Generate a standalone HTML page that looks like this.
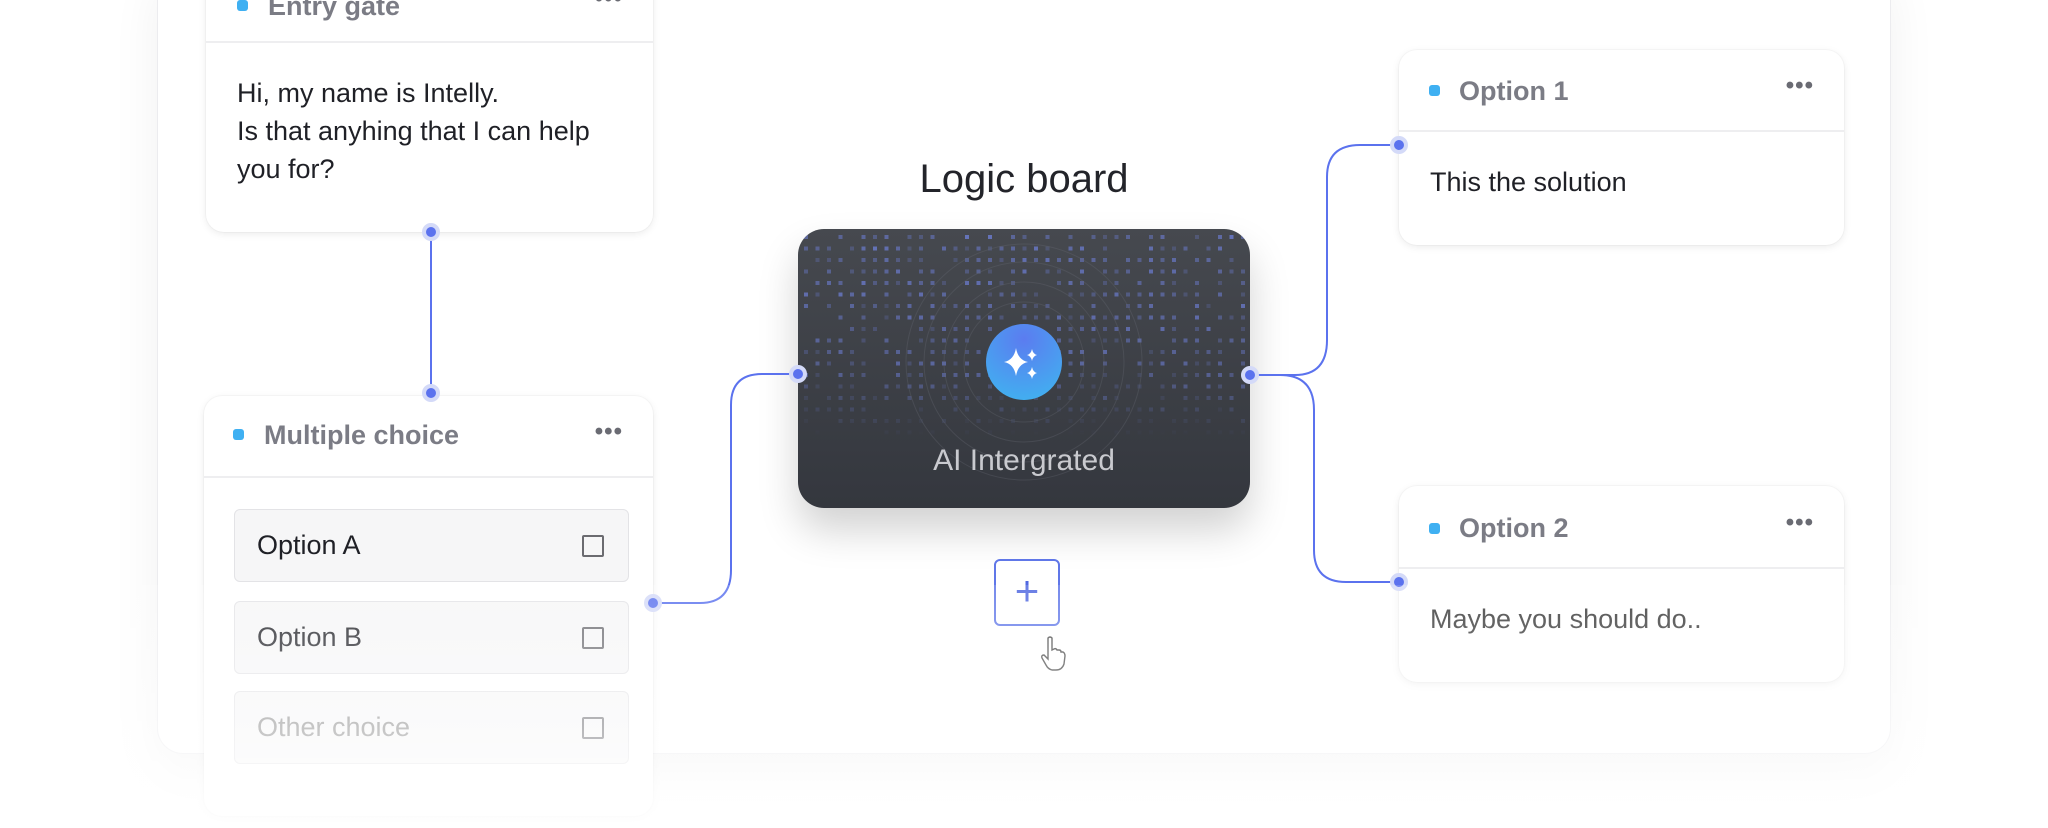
<!DOCTYPE html>
<html><head><meta charset="utf-8"><style>
*{box-sizing:border-box;margin:0;padding:0}
body{width:2048px;height:828px;background:#fff;position:relative;overflow:hidden;font-family:"Liberation Sans",sans-serif}
.abs{position:absolute}
.panel{left:157px;top:-40px;width:1734px;height:794px;background:#fff;border:1px solid #ececef;border-radius:26px;box-shadow:0 20px 50px rgba(0,0,0,0.06)}
.card{position:absolute;background:#fff;border-radius:18px;box-shadow:0 2px 8px rgba(0,0,0,0.08),0 0 0 1px rgba(0,0,0,0.025)}
.hdr{position:absolute;left:0;right:0;border-bottom:2px solid #eeeef0}
.sq{position:absolute;width:11px;height:11px;border-radius:3px;background:#3fb0f2}
.ht{position:absolute;font-size:27px;color:#7b7c85;font-weight:bold}
.dots{position:absolute;font-size:24px;color:#6a6b73;letter-spacing:1px;font-weight:bold}
.bt{position:absolute;font-size:27px;color:#1f2026;line-height:38px}
.opt{position:absolute;left:30px;width:395px;height:73px;border:1.5px solid #e3e3e6;border-radius:6px;background:#f6f6f7}
.opt span{position:absolute;left:22px;top:20px;font-size:27px;color:#1f2026}
.opt i{position:absolute;right:24px;top:25px;width:22px;height:22px;border:2px solid #6b6b70;border-radius:2px}
</style></head><body>
<div class="abs panel"></div>

<!-- Entry gate -->
<div class="card" style="left:206px;top:-60px;width:447px;height:292px">
  <div class="hdr" style="top:0;height:103px"></div>
  <div class="sq" style="left:31px;top:60px"></div>
  <div class="ht" style="left:62px;top:51px">Entry gate</div>
  <div class="dots" style="right:30px;top:45px">•••</div>
  <div class="bt" style="left:31px;top:134px">Hi, my name is Intelly.<br>Is that anyhing that I can help<br>you for?</div>
</div>

<!-- Multiple choice -->
<div class="card" style="left:204px;top:396px;width:449px;height:420px">
  <div class="hdr" style="top:0;height:82px"></div>
  <div class="sq" style="left:29px;top:33px"></div>
  <div class="ht" style="left:60px;top:24px">Multiple choice</div>
  <div class="dots" style="right:30px;top:22px">•••</div>
  <div class="opt" style="top:113px"><span>Option A</span><i></i></div>
  <div class="opt" style="top:205px"><span>Option B</span><i></i></div>
  <div class="opt" style="top:295px"><span style="color:#888">Other choice</span><i></i></div>
</div>

<!-- Logic board -->
<div class="abs" style="left:824px;top:157px;width:400px;text-align:center;font-size:40px;color:#23242a">Logic board</div>
<div class="abs" style="left:798px;top:229px;width:452px;height:279px;border-radius:26px;overflow:hidden;background:linear-gradient(#46494f,#34373e);box-shadow:0 22px 40px rgba(0,0,0,0.18)">
  <svg width="452" height="279" style="position:absolute;left:0;top:0">
    <defs>
      <linearGradient id="g" x1="0" y1="0" x2="0" y2="1"><stop offset="0" stop-color="#fff" stop-opacity="0.8"/><stop offset="0.5" stop-color="#fff" stop-opacity="0.6"/><stop offset="0.75" stop-color="#fff" stop-opacity="0"/></linearGradient>
      <mask id="m"><rect width="452" height="279" fill="url(#g)"/></mask>
      <radialGradient id="cg" cx="0.5" cy="0.2" r="0.9"><stop offset="0" stop-color="#5b7cf0"/><stop offset="1" stop-color="#3fb4f0"/></radialGradient>
    </defs>
    <g id="dg" mask="url(#m)"></g>
    <g fill="none" stroke="#6a6e78" stroke-opacity="0.3">
      <circle cx="226" cy="133" r="60"/><circle cx="226" cy="133" r="80"/><circle cx="226" cy="133" r="100"/><circle cx="226" cy="133" r="118"/>
    </g>
    <circle cx="226" cy="133" r="38" fill="url(#cg)"/>
    <path d="M218 119 Q220 131 230 133 Q220 135 218 147 Q216 135 206 133 Q216 131 218 119Z" fill="#fff"/>
    <path d="M234 120 Q235 125 239 126 Q235 127 234 132 Q233 127 229 126 Q233 125 234 120Z" fill="#fff"/>
    <path d="M234 138 Q235 143 239 144 Q235 145 234 150 Q233 145 229 144 Q233 143 234 138Z" fill="#fff"/>
  </svg>
  <div style="position:absolute;left:0;right:0;top:215px;text-align:center;font-size:30px;color:#c9cacf">AI Intergrated</div>
</div>
<script>
(function(){var g=document.getElementById('dg'),s=7,h='';
function r(){s=(s*9301+49297)%233280;return s/233280;}
for(var y=6;y<230;y+=11.5)for(var x=6;x<452;x+=11.5){var v=r();if(v<0.25)continue;
h+='<rect x="'+x.toFixed(1)+'" y="'+y.toFixed(1)+'" width="4" height="4" fill="#6e7fd8" opacity="'+(0.3+0.7*r()).toFixed(2)+'"/>';}
g.innerHTML=h;})();
</script>

<!-- plus -->
<div class="abs" style="left:994px;top:559px;width:66px;height:67px;border:2px solid #6077e8;border-radius:6px;background:#fff;color:#5068e0;font-size:42px;text-align:center;line-height:60px;font-weight:300">+</div>
<svg class="abs" style="left:1040px;top:636px" width="26" height="36" viewBox="0 0 26 36"><path d="M8 2 Q10 0 12 2 L12 14 L14 13 Q16 12 17 14 L19 14 Q21 14 21 16 L23 16 Q25 17 25 20 L24 28 Q22 34 16 34 L12 34 Q8 33 6 29 L2 22 Q1 19 4 19 L8 23 Z" fill="#fff" stroke="#444" stroke-width="1.4"/></svg>

<!-- Option 1 -->
<div class="card" style="left:1399px;top:50px;width:445px;height:195px">
  <div class="hdr" style="top:0;height:82px"></div>
  <div class="sq" style="left:30px;top:35px"></div>
  <div class="ht" style="left:60px;top:26px">Option 1</div>
  <div class="dots" style="right:30px;top:22px">•••</div>
  <div class="bt" style="left:31px;top:113px">This the solution</div>
</div>
<!-- Option 2 -->
<div class="card" style="left:1399px;top:486px;width:445px;height:196px">
  <div class="hdr" style="top:0;height:83px"></div>
  <div class="sq" style="left:30px;top:37px"></div>
  <div class="ht" style="left:60px;top:27px">Option 2</div>
  <div class="dots" style="right:30px;top:23px">•••</div>
  <div class="bt" style="left:31px;top:114px;color:#333">Maybe you should do..</div>
</div>

<!-- connectors -->
<svg class="abs" style="left:0;top:0" width="2048" height="828">
  <g fill="none" stroke="#5b72ee" stroke-width="2">
    <path d="M431 232 V393"/>
    <path d="M653 603 H700 Q731 603 731 570 V405 Q731 374 762 374 H798"/>
    <path d="M1250 375 H1295 Q1327 375 1327 340 V177 Q1327 145 1360 145 H1399"/>
    <path d="M1250 375 H1280 Q1314 375 1314 410 V550 Q1314 582 1346 582 H1399"/>
  </g>
  <g fill="#5b72ee" stroke="#d4daf8" stroke-width="4">
    <circle cx="431" cy="232" r="7"/><circle cx="431" cy="393" r="7"/>
    <circle cx="653" cy="603" r="7"/><circle cx="798" cy="374" r="7"/>
    <circle cx="1250" cy="375" r="7"/><circle cx="1399" cy="145" r="7"/><circle cx="1399" cy="582" r="7"/>
  </g>
</svg>

<!-- bottom fade -->
<div class="abs" style="left:0;top:585px;width:2048px;height:243px;background:linear-gradient(rgba(255,255,255,0.15),rgba(255,255,255,0.35) 35%,rgba(255,255,255,0.6) 70%,rgba(255,255,255,0.9))"></div>
</body></html>
